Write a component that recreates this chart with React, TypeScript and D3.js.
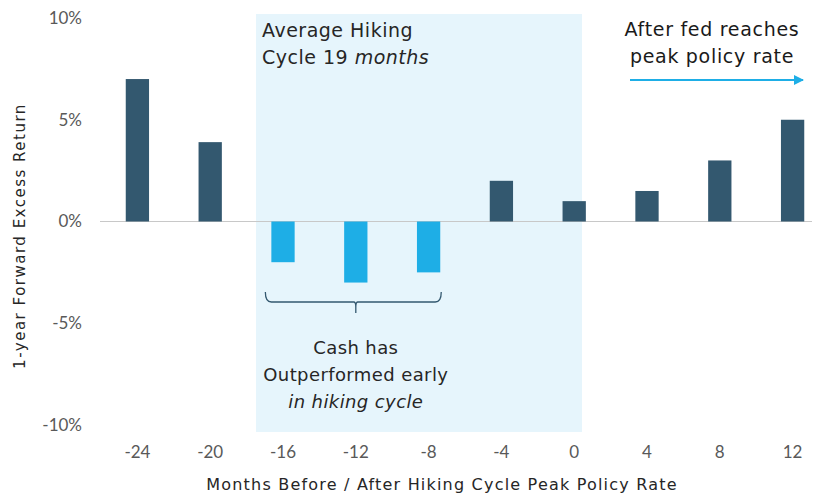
import React, { useEffect, useRef } from 'react';
import * as d3 from 'd3';

const months = ['-24', '-20', '-16', '-12', '-8', '-4', '0', '4', '8', '12'];
const returns = [7.0, 3.9, -2.0, -3.0, -2.5, 2.0, 1.0, 1.5, 3.0, 5.0];
const hikingMonths = ['-16', '-12', '-8'];
const yTicks = [10, 5, 0, -5, -10];

const App: React.FC = () => {
    const ref = useRef<SVGSVGElement>(null);

    useEffect(() => {
        const svg = d3.select(ref.current);
        svg.selectAll('*').remove();

        const font = "'Lato', 'Noto Sans', sans-serif";
        const wide = "'DejaVu Sans', sans-serif";
        const x = d3.scaleBand<string>()
            .domain(months)
            .range([101, 829])
            .paddingInner(0.68)
            .paddingOuter(0.34);
        const y = d3.scaleLinear().domain([-10, 10]).range([425, 18]);

        // shaded hiking cycle area
        svg.append('rect')
            .attr('x', 256)
            .attr('y', 14)
            .attr('width', 326)
            .attr('height', 418)
            .attr('fill', '#e6f5fc');

        // zero line
        svg.append('line')
            .attr('x1', 100).attr('x2', 812)
            .attr('y1', y(0)).attr('y2', y(0))
            .attr('stroke', '#c8c8c8')
            .attr('stroke-width', 1.2);

        // bars
        svg.append('g')
            .selectAll('rect')
            .data(months)
            .enter()
            .append('rect')
            .attr('x', d => x(d)!)
            .attr('width', x.bandwidth())
            .attr('y', (d, i) => y(Math.max(0, returns[i])))
            .attr('height', (d, i) => Math.abs(y(returns[i]) - y(0)))
            .attr('fill', d => hikingMonths.includes(d) ? '#1eaee6' : '#33586f');

        // y tick labels
        svg.append('g')
            .selectAll('text')
            .data(yTicks)
            .enter()
            .append('text')
            .attr('x', 82)
            .attr('y', d => y(d))
            .attr('dy', '0.35em')
            .attr('text-anchor', 'end')
            .attr('font-family', font)
            .attr('font-size', 17)
            .attr('fill', '#595959')
            .text(d => `${d}%`);

        // x tick labels
        svg.append('g')
            .selectAll('text')
            .data(months)
            .enter()
            .append('text')
            .attr('x', d => x(d)! + x.bandwidth() / 2)
            .attr('y', 458)
            .attr('text-anchor', 'middle')
            .attr('font-family', font)
            .attr('font-size', 17)
            .attr('fill', '#595959')
            .text(d => d);

        // axis titles
        svg.append('text')
            .attr('transform', 'translate(25, 236) rotate(-90)')
            .attr('text-anchor', 'middle')
            .attr('font-family', wide)
            .attr('font-size', 15)
            .attr('letter-spacing', 1.5)
            .attr('fill', '#262626')
            .text('1-year Forward Excess Return');

        svg.append('text')
            .attr('x', 442)
            .attr('y', 490)
            .attr('text-anchor', 'middle')
            .attr('font-family', wide)
            .attr('font-size', 16)
            .attr('letter-spacing', 1.2)
            .attr('fill', '#262626')
            .text('Months Before / After Hiking Cycle Peak Policy Rate');

        // hiking cycle annotation
        const t1 = svg.append('text')
            .attr('font-family', wide)
            .attr('font-size', 19)
            .attr('letter-spacing', 0.5)
            .attr('fill', '#262626');
        t1.append('tspan').attr('x', 262).attr('y', 37).text('Average Hiking');
        const l2 = t1.append('tspan').attr('x', 262).attr('y', 64);
        l2.append('tspan').text('Cycle 19 ');
        l2.append('tspan').attr('font-style', 'italic').text('months');

        // after peak annotation
        const t2 = svg.append('text')
            .attr('font-family', wide)
            .attr('font-size', 19)
            .attr('letter-spacing', 0.7)
            .attr('text-anchor', 'middle')
            .attr('fill', '#1a1a1a');
        t2.append('tspan').attr('x', 712).attr('y', 36).text('After fed reaches');
        t2.append('tspan').attr('x', 712).attr('y', 63).text('peak policy rate');

        svg.append('defs')
            .append('marker')
            .attr('id', 'arrowHead')
            .attr('viewBox', '0 0 10 10')
            .attr('refX', 9)
            .attr('refY', 5)
            .attr('markerWidth', 5)
            .attr('markerHeight', 5)
            .attr('markerUnits', 'strokeWidth')
            .attr('orient', 'auto')
            .append('path')
            .attr('d', 'M0,0 L10,5 L0,10 z')
            .attr('fill', '#1eaee6');

        svg.append('line')
            .attr('x1', 630).attr('x2', 803)
            .attr('y1', 80).attr('y2', 80)
            .attr('stroke', '#1eaee6')
            .attr('stroke-width', 2)
            .attr('marker-end', 'url(#arrowHead)');

        // bracket under negative bars
        const bx1 = x('-16')! - 6;
        const bx2 = x('-8')! + x.bandwidth() + 1;
        const bmid = x('-12')! + x.bandwidth() / 2;
        svg.append('path')
            .attr('d', `M${bx1},292 Q${bx1},302 ${bx1 + 6},302 L${bmid - 2},302 Q${bmid},302 ${bmid},307 L${bmid},313 M${bmid},307 Q${bmid},302 ${bmid + 2},302 L${bx2 - 6},302 Q${bx2},302 ${bx2},292`)
            .attr('fill', 'none')
            .attr('stroke', '#33586f')
            .attr('stroke-width', 1.3);

        const t3 = svg.append('text')
            .attr('font-family', wide)
            .attr('font-size', 18)
            .attr('letter-spacing', 0.4)
            .attr('text-anchor', 'middle')
            .attr('fill', '#262626');
        t3.append('tspan').attr('x', bmid).attr('y', 354).text('Cash has');
        t3.append('tspan').attr('x', bmid).attr('y', 381).text('Outperformed early');
        t3.append('tspan').attr('x', bmid).attr('y', 408).attr('font-style', 'italic').text('in hiking cycle');
    }, []);

    return (
        <svg ref={ref} width={820} height={497}
            style={{ position: 'absolute', left: 0, top: 0, background: 'white' }} />
    );
};

export default App;
